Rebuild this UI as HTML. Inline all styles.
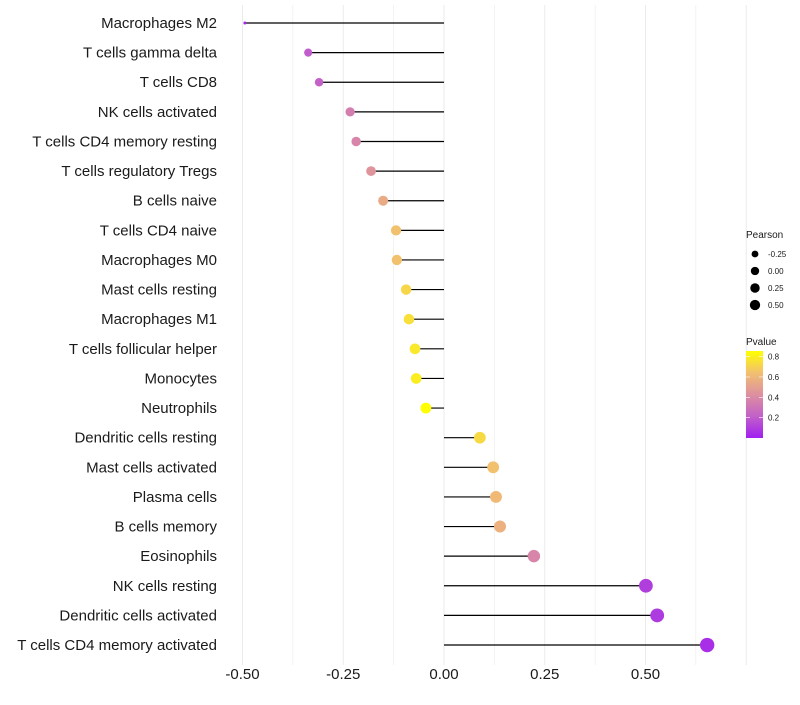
<!DOCTYPE html>
<html><head><meta charset="utf-8"><style>
body{margin:0;background:#fff;font-family:"Liberation Sans",sans-serif}
</style></head><body>
<svg id="chart" width="800" height="700" xmlns="http://www.w3.org/2000/svg" font-family="Liberation Sans, sans-serif"></svg>
<script>
const categories=["Macrophages M2","T cells gamma delta","T cells CD8","NK cells activated","T cells CD4 memory resting","T cells regulatory  Tregs ","B cells naive","T cells CD4 naive","Macrophages M0","Mast cells resting","Macrophages M1","T cells follicular helper","Monocytes","Neutrophils","Dendritic cells resting","Mast cells activated","Plasma cells","B cells memory","Eosinophils","NK cells resting","Dendritic cells activated","T cells CD4 memory activated"];
const pearson=[-0.494,-0.337,-0.31,-0.233,-0.218,-0.181,-0.151,-0.119,-0.117,-0.094,-0.087,-0.072,-0.069,-0.045,0.089,0.122,0.129,0.139,0.223,0.501,0.529,0.653];
const pvalue=[0.02,0.2,0.22,0.35,0.38,0.45,0.55,0.65,0.65,0.72,0.75,0.78,0.8,0.86,0.73,0.65,0.62,0.58,0.38,0.1,0.09,0.05];
const xTicks=[-0.5,-0.25,0,0.25,0.5];
const xTickLabels=["-0.50","-0.25","0.00","0.25","0.50"];
const sizeLegend=[-0.25,0,0.25,0.5];
const sizeLegendLabels=["-0.25","0.00","0.25","0.50"];
const pTicks=[0.2,0.4,0.6,0.8];

const svg=document.getElementById('chart');
const NS="http://www.w3.org/2000/svg";
function mk(t,a,p){const e=document.createElementNS(NS,t);for(const k in a)e.setAttribute(k,a[k]);(p||svg).appendChild(e);return e;}
const x=v=>444+v*403;
const y=i=>23+i*29.62;
const pmin=Math.min(...pearson),pmax=Math.max(...pearson);
const r=v=>{const t=Math.max(0,(v-pmin)/(pmax-pmin));return 1.5+5.7*Math.pow(t,0.4);};
const stops=[[0,[160,32,240]],[0.25,[194,96,200]],[0.5,[221,144,160]],[0.75,[242,192,112]],[1,[255,255,0]]];
function col(p){let t=Math.min(1,Math.max(0,p/0.86));for(let i=1;i<stops.length;i++){if(t<=stops[i][0]){const a=stops[i-1],b=stops[i];const f=(t-a[0])/(b[0]-a[0]);const c=a[1].map((v,j)=>Math.round(v+(b[1][j]-v)*f));return `rgb(${c})`;}}return 'rgb(255,255,0)';}

for(let v=-0.5;v<=0.76;v+=0.125){
  const g=mk('line',{x1:x(v),x2:x(v),y1:5,y2:665,stroke:'#ebebeb','stroke-width':Math.abs((v*4)%1)<0.01?1:0.6});
  
  
}
categories.forEach((c,i)=>{
  const t=mk('text',{x:217,y:y(i)+5,'text-anchor':'end','font-size':15,fill:'#1a1a1a'});t.textContent=c;
  
  
  const l=mk('line',{x1:x(0),x2:x(pearson[i]),y1:y(i),y2:y(i),stroke:'#000','stroke-width':1.2});
  
  
  const d=mk('circle',{cx:x(pearson[i]),cy:y(i),r:r(pearson[i]),fill:col(pvalue[i])});
  
  
});
xTicks.forEach((v,i)=>{
  const t=mk('text',{x:x(v),y:679,'text-anchor':'middle','font-size':15,fill:'#1a1a1a'});t.textContent=xTickLabels[i];
  
  
});
const lg=mk('g',{});


let t=mk('text',{x:746,y:238,'font-size':10,fill:'#1a1a1a'},lg);t.textContent='Pearson';
sizeLegend.forEach((v,i)=>{
  const cy=254+i*17;
  const c=mk('circle',{cx:755,cy:cy,r:r(v)*0.75,fill:'#000'},lg);
  
  
  const tt=mk('text',{x:768,y:cy+3,'font-size':8,fill:'#1a1a1a'},lg);tt.textContent=sizeLegendLabels[i];
});
t=mk('text',{x:746,y:345,'font-size':10,fill:'#1a1a1a'},lg);t.textContent='Pvalue';
const defs=mk('defs',{});const gr=mk('linearGradient',{id:'pg',x1:0,y1:1,x2:0,y2:0},defs);
stops.forEach(s=>mk('stop',{offset:s[0],'stop-color':`rgb(${s[1]})`},gr));
const cb=mk('rect',{x:746,y:351,width:17,height:87,fill:'url(#pg)'},lg);


pTicks.forEach(p=>{
  const yy=438-p*101.7;
  mk('line',{x1:746,x2:750,y1:yy,y2:yy,stroke:'#fff','stroke-width':0.6},lg);
  mk('line',{x1:759,x2:763,y1:yy,y2:yy,stroke:'#fff','stroke-width':0.6},lg);
  const tt=mk('text',{x:768,y:yy+3,'font-size':8,fill:'#1a1a1a'},lg);tt.textContent=p.toFixed(1);
});
</script>
</body></html>
